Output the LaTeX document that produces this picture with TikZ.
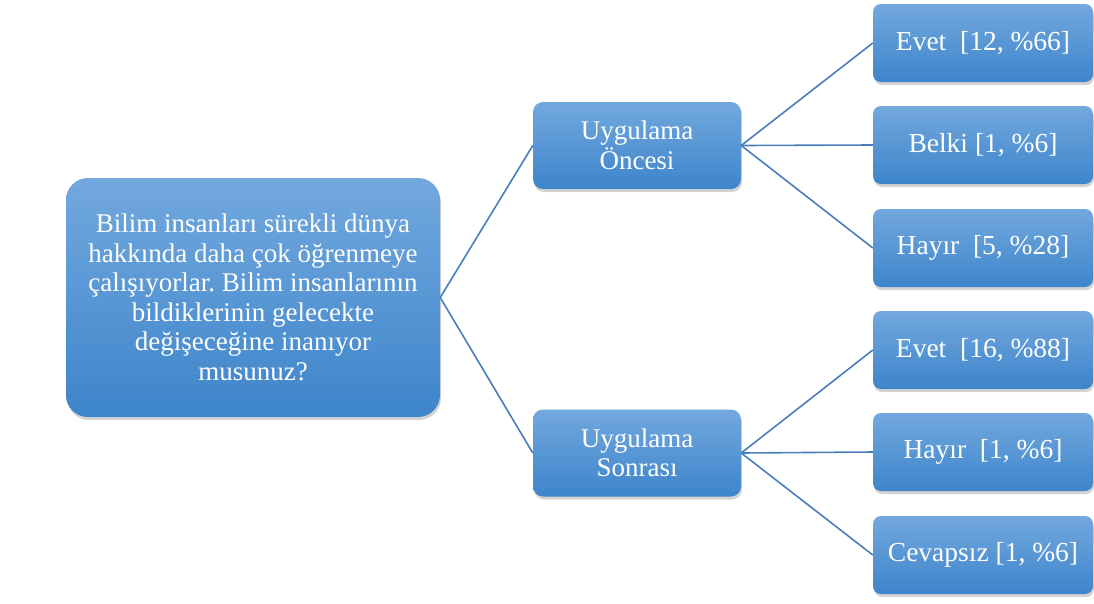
\documentclass[tikz,border=0pt]{standalone}
\usepackage{fontspec}
\setmainfont{Liberation Serif}
\usetikzlibrary{shadows}
\definecolor{boxtop}{HTML}{72A8DE}
\definecolor{boxbot}{HTML}{3E85CB}
\definecolor{linec}{HTML}{4A7EBB}
\tikzset{
  box/.style={rectangle, shading=axis, top color=boxtop, bottom color=boxbot, draw=none,
    text=white, align=center, inner sep=2pt,
    drop shadow={opacity=0.35, shadow xshift=1pt, shadow yshift=-3pt}},
  bigbox/.style={box, rounded corners=22pt, minimum width=374pt, minimum height=239pt,
    font=\fontsize{27}{29.5}\selectfont\frenchspacing},
  midbox/.style={box, rounded corners=10pt, minimum width=208pt, minimum height=87pt,
    font=\fontsize{27}{29.5}\selectfont},
  leafbox/.style={box, rounded corners=8pt, minimum width=220pt, minimum height=78pt,
    font=\fontsize{27.5}{30}\selectfont},
  conn/.style={draw=linec, line width=1.6pt}
}
\begin{document}
\begin{tikzpicture}[x=1pt,y=-1pt]
\useasboundingbox (0,0) rectangle (1094,603);
\node[bigbox] (q) at (253,297.5) {Bilim insanları sürekli dünya\\hakkında daha çok öğrenmeye\\çalışıyorlar. Bilim insanlarının\\bildiklerinin gelecekte\\değişeceğine inanıyor\\musunuz?};
\node[midbox] (on) at (637,145.5) {Uygulama\\Öncesi};
\node[midbox] (so) at (637,453) {Uygulama\\Sonrası};
\node[leafbox] (a1) at (983,43) {Evet~~[12, \%66]};
\node[leafbox] (a2) at (983,145) {Belki [1, \%6]};
\node[leafbox] (a3) at (983,248) {Hayır~~[5, \%28]};
\node[leafbox] (b1) at (983,350) {Evet~~[16, \%88]};
\node[leafbox] (b2) at (983,452) {Hayır~~[1, \%6]};
\node[leafbox] (b3) at (983,555) {Cevapsız [1, \%6]};
\draw[conn] (q.east) -- (on.west);
\draw[conn] (q.east) -- (so.west);
\draw[conn] (on.east) -- (a1.west);
\draw[conn] (on.east) -- (a2.west);
\draw[conn] (on.east) -- (a3.west);
\draw[conn] (so.east) -- (b1.west);
\draw[conn] (so.east) -- (b2.west);
\draw[conn] (so.east) -- (b3.west);
\end{tikzpicture}
\end{document}
